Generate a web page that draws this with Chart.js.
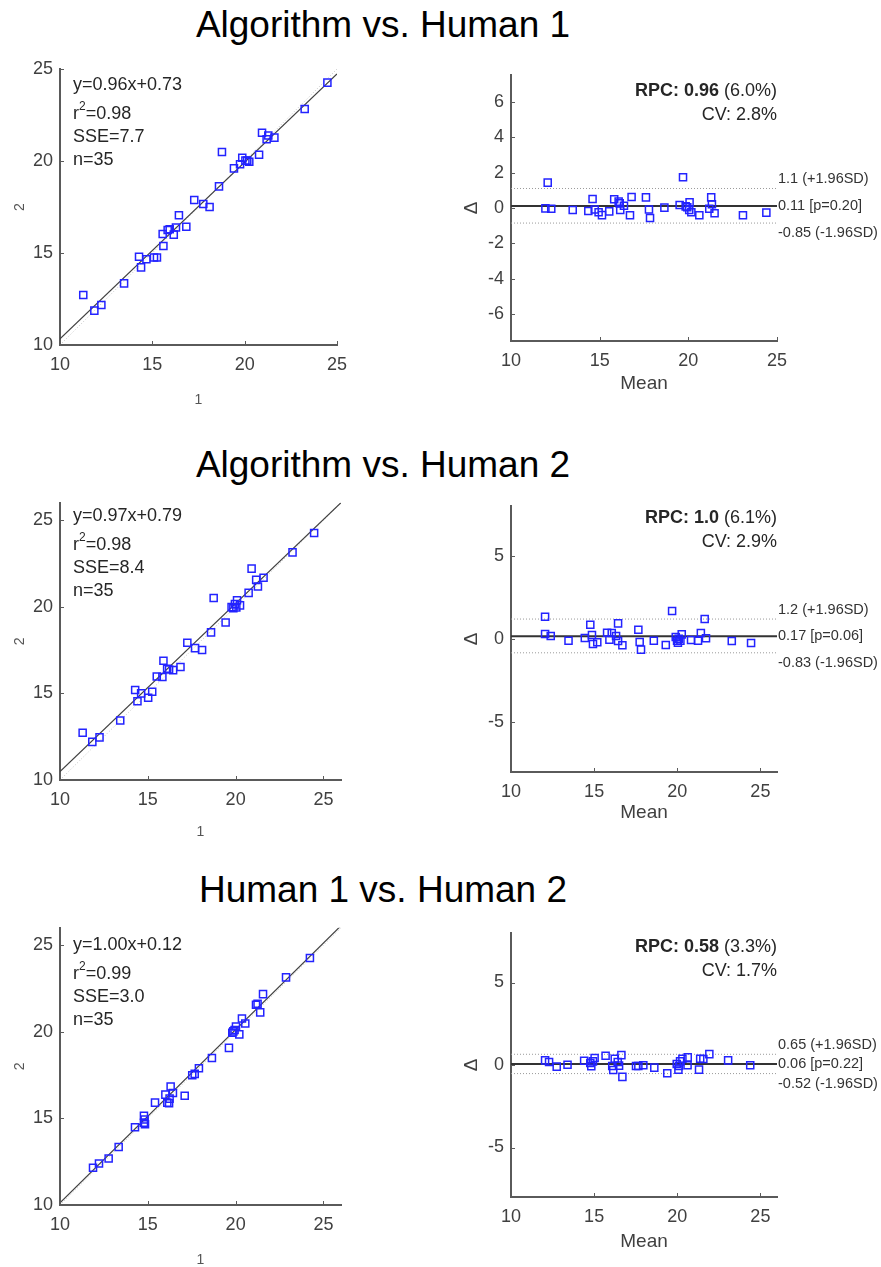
<!DOCTYPE html>
<html>
<head>
<meta charset="utf-8">
<script src="https://cdn.jsdelivr.net/npm/chart.js@4.4.1/dist/chart.umd.min.js"></script>
<style>
  body { margin: 0; background: #fff; width: 881px; height: 1267px; position: relative; overflow: hidden;
         font-family: "Liberation Sans", Arial, sans-serif; }
  .title { position: absolute; left: 0; width: 766px; text-align: center; font-size: 37px; line-height: 40px; color: #000; }
  canvas { position: absolute; }
</style>
</head>
<body>
<div class="title" style="top:5px">Algorithm vs. Human 1</div>
<div class="title" style="top:445px">Algorithm vs. Human 2</div>
<div class="title" style="top:870px">Human 1 vs. Human 2</div>
<canvas id="s1"></canvas><canvas id="b1"></canvas>
<canvas id="s2"></canvas><canvas id="b2"></canvas>
<canvas id="s3"></canvas><canvas id="b3"></canvas>
<script>
// ---------- data
const xTicks = [10, 15, 20, 25];
const yTicksScatter = [10, 15, 20, 25];
const yTicksBA1 = [-6, -4, -2, 0, 2, 4, 6];
const yTicksBA23 = [-5, 0, 5];

// row 1: Algorithm vs. Human 1
const s1x = [11.26, 11.86, 12.24, 13.47, 14.28, 14.39, 14.68, 15.09, 15.25, 15.56, 15.60, 15.83, 15.94, 16.16, 16.28, 16.44, 16.84, 17.27, 17.76, 18.10, 18.61, 18.77, 19.42, 19.75, 19.87, 20.04, 20.14, 20.25, 20.78, 20.94, 21.19, 21.28, 21.61, 23.25, 24.48];
const s1y = [12.72, 11.87, 12.17, 13.35, 14.80, 14.22, 14.66, 14.76, 14.76, 16.03, 15.38, 16.25, 16.29, 16.00, 16.39, 17.05, 16.43, 17.88, 17.66, 17.50, 18.62, 20.49, 19.60, 19.82, 20.18, 20.02, 20.02, 19.96, 20.34, 21.54, 21.18, 21.39, 21.27, 22.83, 24.26];
const ba1Mean = [12.07, 11.94, 12.27, 13.48, 14.36, 14.60, 14.72, 14.94, 15.13, 15.54, 15.82, 16.07, 16.13, 16.16, 16.37, 16.71, 16.80, 17.61, 17.78, 17.84, 18.65, 19.51, 19.70, 19.85, 19.94, 20.07, 20.05, 20.17, 20.62, 21.18, 21.29, 21.33, 21.48, 23.08, 24.40];
const ba1Diff = [1.43, -0.02, -0.04, -0.11, -0.17, 0.51, -0.08, -0.24, -0.40, -0.19, 0.49, 0.36, 0.26, -0.11, 0.13, -0.41, 0.62, 0.60, -0.08, -0.56, 0.02, 0.17, 1.73, 0.09, 0.04, 0.32, -0.11, -0.24, -0.41, -0.04, 0.60, 0.21, -0.30, -0.41, -0.26];

// row 2: Algorithm vs. Human 2
const s2x = [11.29, 11.84, 12.25, 13.43, 14.28, 14.41, 14.62, 15.02, 15.25, 15.51, 15.83, 15.89, 16.10, 16.21, 16.44, 16.86, 17.25, 17.69, 18.09, 18.60, 18.75, 19.43, 19.77, 19.87, 19.96, 20.04, 20.08, 20.25, 20.74, 20.91, 21.17, 21.27, 21.59, 23.24, 24.47];
const s2y = [12.73, 12.20, 12.46, 13.43, 15.19, 14.55, 15.00, 14.75, 15.09, 15.97, 15.95, 16.88, 16.42, 16.38, 16.34, 16.52, 17.92, 17.61, 17.50, 18.52, 20.51, 19.09, 19.98, 19.91, 20.15, 19.96, 20.38, 20.08, 20.80, 22.20, 21.55, 21.17, 21.67, 23.14, 24.26];
const ba2Mean = [12.05, 12.05, 12.39, 13.46, 14.44, 14.77, 14.87, 14.93, 15.19, 15.78, 15.92, 16.06, 16.32, 16.44, 16.44, 16.70, 17.66, 17.74, 17.82, 18.59, 19.31, 19.69, 19.91, 19.99, 20.04, 20.09, 20.19, 20.27, 20.83, 21.25, 21.42, 21.65, 21.73, 23.28, 24.44];
const ba2Diff = [1.34, 0.30, 0.18, -0.10, 0.06, 0.86, 0.24, -0.30, -0.20, 0.38, -0.04, 0.36, 0.18, 0.94, -0.12, -0.38, 0.56, -0.18, -0.64, -0.10, -0.36, 1.68, 0.12, -0.10, -0.22, 0.02, -0.10, 0.28, -0.06, -0.10, 0.36, 1.20, 0.04, -0.12, -0.24];

// row 3: Human 1 vs. Human 2
const s3x = [11.88, 12.22, 12.77, 13.34, 14.27, 14.78, 14.78, 14.82, 14.84, 15.41, 16.00, 16.11, 16.21, 16.24, 16.30, 16.43, 17.10, 17.53, 17.67, 17.91, 18.65, 19.62, 19.81, 19.87, 19.94, 20.02, 20.21, 20.36, 20.55, 21.16, 21.25, 21.40, 21.56, 22.87, 24.23];
const s3y = [12.15, 12.40, 12.68, 13.35, 14.49, 15.15, 14.75, 14.94, 14.66, 15.91, 16.37, 15.91, 15.87, 16.14, 16.84, 16.46, 16.31, 17.49, 17.57, 17.89, 18.48, 19.07, 19.94, 20.02, 20.10, 20.30, 19.85, 20.76, 20.48, 21.56, 21.62, 21.12, 22.17, 23.14, 24.26];
const ba3Mean = [12.05, 12.29, 12.75, 13.40, 14.40, 14.77, 14.83, 14.93, 15.03, 15.69, 16.09, 16.15, 16.24, 16.42, 16.50, 16.64, 16.70, 17.52, 17.66, 17.96, 18.62, 19.40, 19.97, 20.07, 20.10, 20.17, 20.31, 20.62, 20.63, 21.31, 21.38, 21.57, 21.93, 23.06, 24.39];
const ba3Diff = [0.28, 0.18, -0.10, 0.02, 0.26, 0.12, -0.08, 0.22, 0.42, 0.56, -0.06, -0.30, 0.38, 0.18, -0.04, 0.60, -0.72, -0.06, -0.06, -0.02, -0.16, -0.50, 0.06, -0.28, -0.06, 0.22, 0.38, -0.02, 0.46, -0.28, 0.38, 0.36, 0.66, 0.28, -0.02];

// regression / agreement stats printed on the panels
const slopes = [0.96, 0.97, 1.00];
const intercepts = [0.73, 0.79, 0.12];
const r2s = ["0.98", "0.98", "0.99"];
const sses = ["7.7", "8.4", "3.0"];
const counts = [35, 35, 35];
const rpcs = ["0.96", "1.0", "0.58"];
const rpcPct = ["6.0%", "6.1%", "3.3%"];
const cvs = ["2.8%", "2.9%", "1.7%"];
const meanDiffs = [0.11, 0.17, 0.06];
const pValues = ["0.20", "0.06", "0.22"];
const upperLoA = [1.1, 1.2, 0.65];
const lowerLoA = [-0.85, -0.83, -0.52];

// ---------- styling
const FONT = '"Liberation Sans", Arial, sans-serif';
Chart.defaults.font.family = FONT;
const axisColor = "#5a5a5a";
const tickColor = "#404040";
const textColor = "#262626";
const pointColor = "#2323ff";

const tickMarks = {
  id: "tickMarks",
  afterDraw(chart) {
    const { ctx, chartArea: a, scales: { x, y } } = chart;
    ctx.save();
    ctx.strokeStyle = axisColor;
    ctx.lineWidth = 1;
    x.ticks.forEach(t => {
      const px = Math.round(x.getPixelForValue(t.value)) + 0.5;
      ctx.beginPath(); ctx.moveTo(px, a.bottom); ctx.lineTo(px, a.bottom - 4); ctx.stroke();
    });
    y.ticks.forEach(t => {
      const py = Math.round(y.getPixelForValue(t.value)) + 0.5;
      ctx.beginPath(); ctx.moveTo(a.left, py); ctx.lineTo(a.left + 4, py); ctx.stroke();
    });
    ctx.restore();
  }
};

function scaleOpts(min, max, ticks, size, vertical, title) {
  const o = {
    type: "linear", min: min, max: max,
    grid: { display: false, drawTicks: false },
    border: { display: true, color: axisColor, width: 2 },
    ticks: { color: tickColor, font: { size: 18 }, padding: vertical ? 7 : 9 },
    afterBuildTicks: s => { s.ticks = ticks.map(v => ({ value: v })); },
    title: title
  };
  if (vertical) o.afterFit = s => { s.width = size; };
  else o.afterFit = s => { s.height = size; };
  return o;
}

function place(id, box) {
  const cv = document.getElementById(id);
  cv.width = box[2]; cv.height = box[3];
  cv.style.left = box[0] + "px"; cv.style.top = box[1] + "px";
  return cv;
}

function makeChart(cv, box, area, datasets, xs, ys, textPlugin) {
  return new Chart(cv, {
    type: "scatter",
    data: { datasets: datasets },
    options: {
      responsive: false,
      animation: false,
      events: [],
      layout: { padding: { left: 0, top: area[1] - box[1], right: box[0] + box[2] - area[2], bottom: 0 } },
      plugins: { legend: { display: false }, tooltip: { enabled: false } },
      scales: { x: xs, y: ys }
    },
    plugins: [tickMarks, textPlugin]
  });
}

function pts(xv, yv) {
  return xv.map((v, i) => ({ x: v, y: yv[i] }));
}

function markers(data) {
  return {
    data: data, pointStyle: "rect", pointRadius: 5, borderWidth: 1.5,
    borderColor: pointColor, backgroundColor: "transparent", showLine: false
  };
}

function hline(xr, v, color, width, dash) {
  return {
    data: [{ x: xr[0], y: v }, { x: xr[1], y: v }], showLine: true, pointRadius: 0,
    borderColor: color, borderWidth: width, borderDash: dash || []
  };
}

// ---------- scatter panels
function buildScatter(i, id, box, area, range, xs, ys, firstBase, xTitleGap) {
  const cv = place(id, box);
  const fitLine = {
    data: [{ x: range[0], y: slopes[i] * range[0] + intercepts[i] },
           { x: range[1], y: slopes[i] * range[1] + intercepts[i] }],
    showLine: true, pointRadius: 0, borderColor: "#404040", borderWidth: 1.2
  };
  const identity = {
    data: [{ x: range[0], y: range[0] }, { x: range[1], y: range[1] }],
    showLine: true, pointRadius: 0, borderColor: "#c4c4c4", borderWidth: 1, borderDash: [1, 2]
  };
  const textPlugin = {
    id: "fitText" + i,
    afterDatasetsDraw(chart) {
      const { ctx, chartArea: a } = chart;
      ctx.save();
      ctx.fillStyle = textColor;
      ctx.textAlign = "left";
      ctx.textBaseline = "alphabetic";
      const x0 = a.left + 13;
      const y0 = a.top + firstBase;
      ctx.font = "18px " + FONT;
      ctx.fillText("y=" + slopes[i].toFixed(2) + "x+" + intercepts[i].toFixed(2), x0, y0);
      ctx.fillText("r", x0, y0 + 29);
      let w = ctx.measureText("r").width;
      ctx.font = "12px " + FONT;
      ctx.fillText("2", x0 + w, y0 + 29 - 9);
      w += ctx.measureText("2").width;
      ctx.font = "18px " + FONT;
      ctx.fillText("=" + r2s[i], x0 + w, y0 + 29);
      ctx.fillText("SSE=" + sses[i], x0, y0 + 52);
      ctx.fillText("n=" + counts[i], x0, y0 + 75);
      ctx.restore();
    }
  };
  const xOff = box[1] + box[3] - (area[3] + xTitleGap);
  const xTitle = { display: true, text: "1", color: "#555", font: { size: 14, lineHeight: 1 },
                   padding: { top: 0, bottom: Math.max(0, xOff - 7) } };
  const yTitle = { display: true, text: "2", color: "#555", font: { size: 14, lineHeight: 1 },
                   padding: { top: 20 - box[0] - 7, bottom: 0 } };
  makeChart(cv, box, area,
    [markers(pts(xs, ys)), fitLine, identity],
    scaleOpts(range[0], range[1], xTicks, box[1] + box[3] - area[3], false, xTitle),
    scaleOpts(range[0], range[1], yTicksScatter, area[0] - box[0], true, yTitle),
    textPlugin);
}

// ---------- Bland-Altman panels
function buildBA(i, id, box, area, xr, yr, yTicks, means, diffs, firstBase, xTitleGap) {
  const cv = place(id, box);
  const textPlugin = {
    id: "baText" + i,
    afterDatasetsDraw(chart) {
      const { ctx, chartArea: a, scales: { y } } = chart;
      ctx.save();
      ctx.fillStyle = textColor;
      ctx.textBaseline = "alphabetic";
      ctx.textAlign = "left";
      const boldPart = "RPC: " + rpcs[i];
      const plainPart = " (" + rpcPct[i] + ")";
      ctx.font = "bold 18px " + FONT;
      const wb = ctx.measureText(boldPart).width;
      ctx.font = "18px " + FONT;
      const wp = ctx.measureText(plainPart).width;
      const yb = a.top + firstBase;
      ctx.font = "bold 18px " + FONT;
      ctx.fillText(boldPart, a.right - wb - wp, yb);
      ctx.font = "18px " + FONT;
      ctx.fillText(plainPart, a.right - wp, yb);
      ctx.textAlign = "right";
      ctx.fillText("CV: " + cvs[i], a.right, yb + 23.5);
      // limit labels right of the plot
      ctx.textAlign = "left";
      ctx.textBaseline = "middle";
      ctx.fillStyle = "#333";
      ctx.font = "14.5px " + FONT;
      const lx = a.right + 1;
      ctx.fillText(upperLoA[i] + " (+1.96SD)", lx, y.getPixelForValue(upperLoA[i]) - 9);
      ctx.fillText(meanDiffs[i] + " [p=" + pValues[i] + "]", lx, y.getPixelForValue(meanDiffs[i]));
      ctx.fillText(lowerLoA[i] + " (-1.96SD)", lx, y.getPixelForValue(lowerLoA[i]) + 10);
      ctx.restore();
    }
  };
  const xOff = box[1] + box[3] - (area[3] + xTitleGap);
  const xTitle = { display: true, text: "Mean", color: "#404040", font: { size: 19, lineHeight: 1 },
                   padding: { top: 0, bottom: Math.max(0, xOff - 9.5) } };
  const yTitle = { display: true, text: "Δ", color: "#404040", font: { size: 19, lineHeight: 1 },
                   padding: { top: 472 - box[0] - 9.5, bottom: 0 } };
  makeChart(cv, box, area,
    [markers(pts(means, diffs)),
     hline(xr, meanDiffs[i], "#333", 2),
     hline(xr, upperLoA[i], "#9a9a9a", 1, [1, 2]),
     hline(xr, lowerLoA[i], "#9a9a9a", 1, [1, 2])],
    scaleOpts(xr[0], xr[1], xTicks, box[1] + box[3] - area[3], false, xTitle),
    scaleOpts(yr[0], yr[1], yTicks, area[0] - box[0], true, yTitle),
    textPlugin);
}

buildScatter(0, "s1", [0, 45, 440, 380], [60, 69, 337, 345], [10, 25], s1x, s1y, 21, 55);
buildScatter(1, "s2", [0, 485, 440, 370], [60, 498, 341, 780], [10, 26], s2x, s2y, 18, 52);
buildScatter(2, "s3", [0, 910, 440, 357], [60, 923, 341, 1205], [10, 26], s3x, s3y, 22, 55);

buildBA(0, "b1", [440, 45, 441, 380], [511, 75, 777, 341], [10, 25], [-7.5, 7.5], yTicksBA1, ba1Mean, ba1Diff, 21, 43);
buildBA(1, "b2", [440, 485, 441, 370], [511, 506, 777, 772], [10, 26], [-8, 8], yTicksBA23, ba2Mean, ba2Diff, 17, 41);
buildBA(2, "b3", [440, 910, 441, 357], [511, 933, 777, 1197], [10, 26], [-8, 8], yTicksBA23, ba3Mean, ba3Diff, 19, 45);
</script>
</body>
</html>
